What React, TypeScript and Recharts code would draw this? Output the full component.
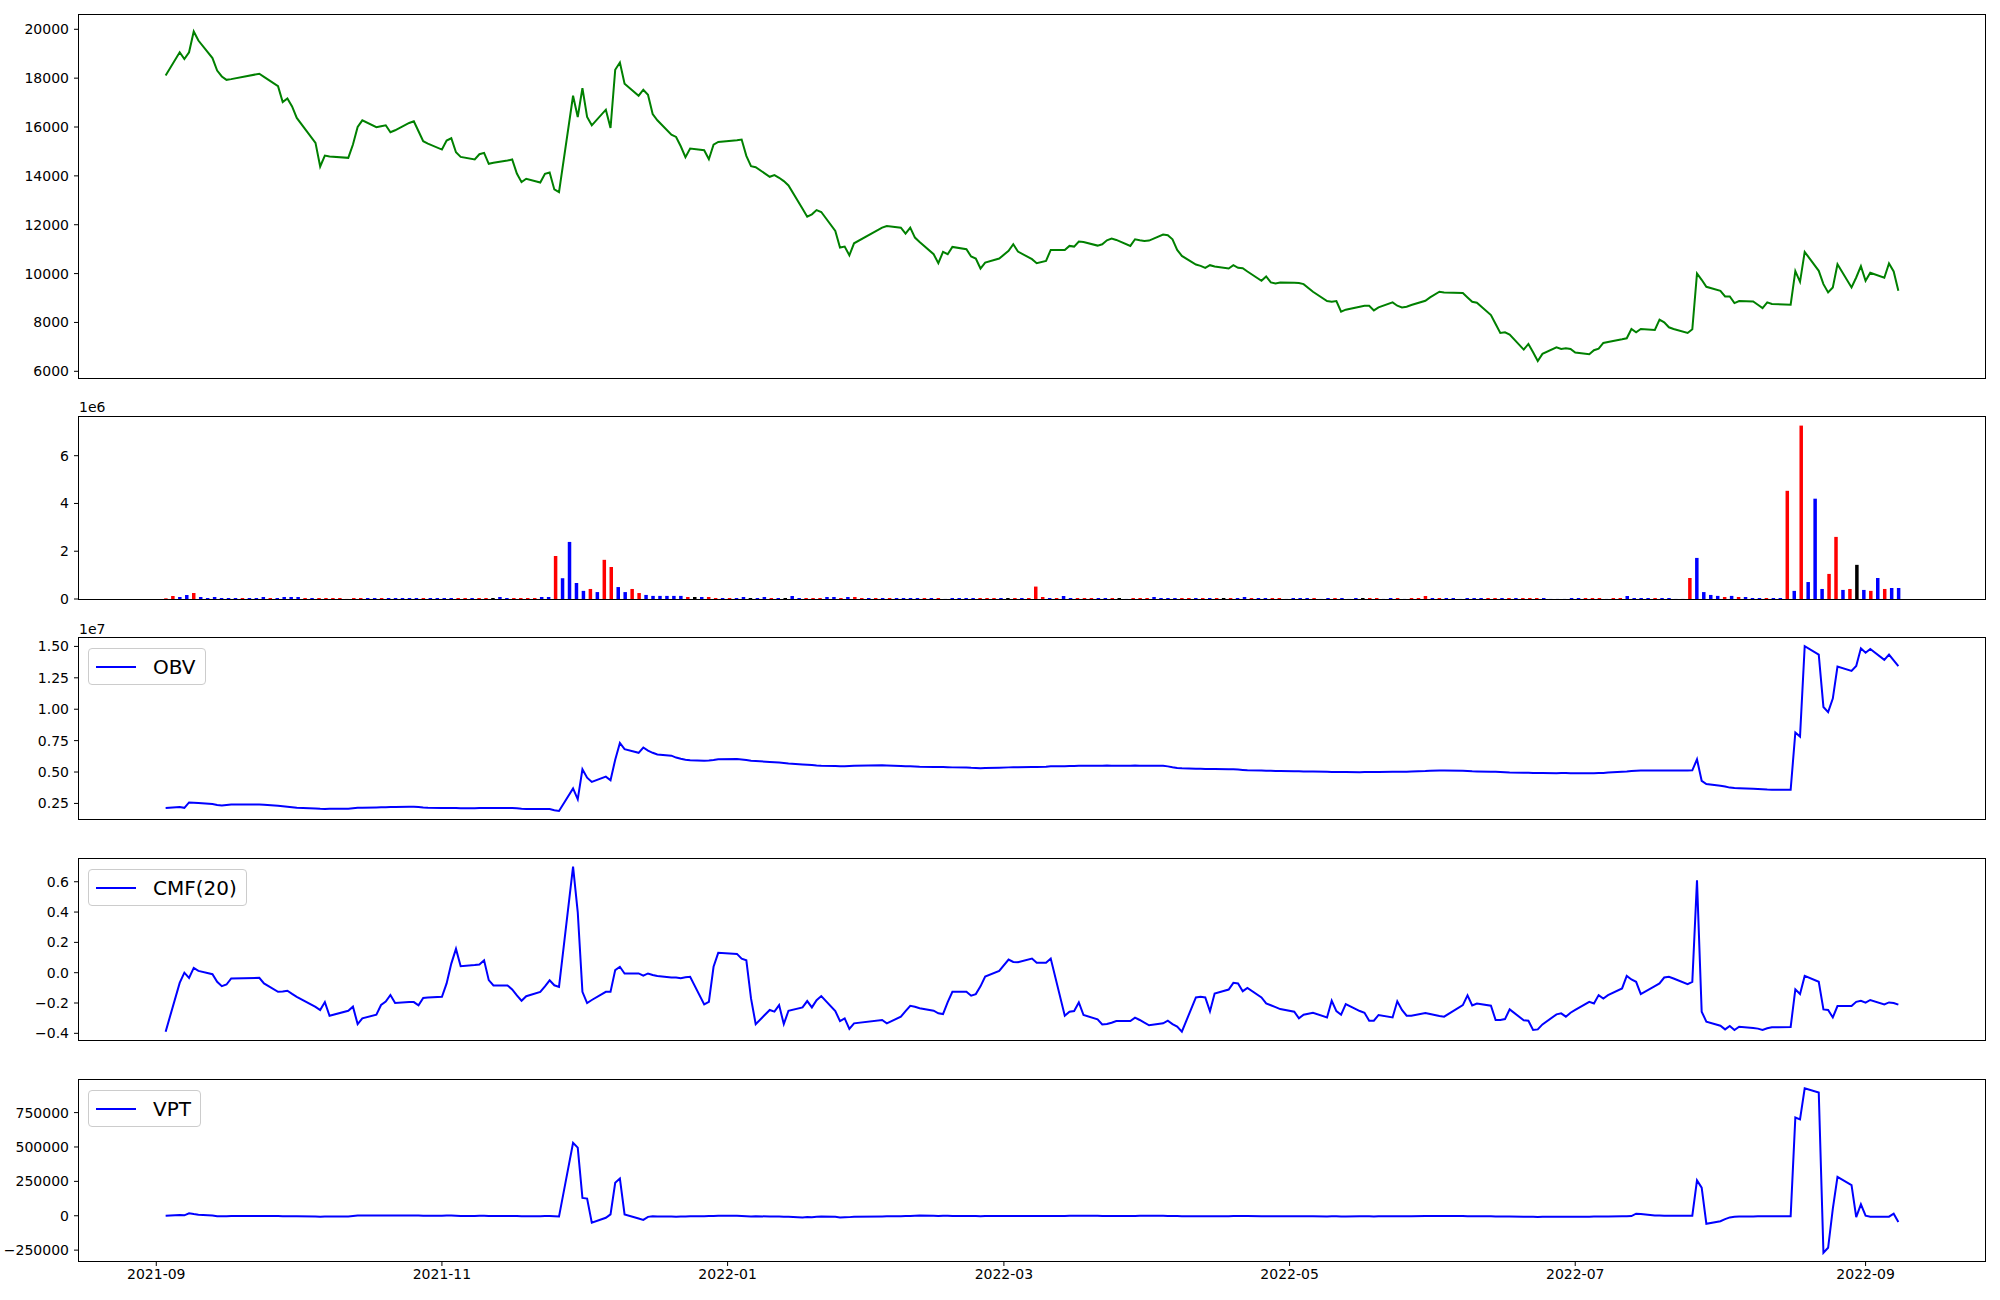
import React from "react";
import { LineChart, Line, BarChart, Bar, Cell, XAxis, YAxis, Legend } from "recharts";

// trading calendar (KRX, holidays skipped)
const MONTHS = ["2021-09", "2021-10", "2021-11", "2021-12", "2022-01", "2022-02", "2022-03", "2022-04", "2022-05", "2022-06", "2022-07", "2022-08", "2022-09"];
const TRADING_DAYS = [
  [3, 6, 7, 8, 9, 10, 13, 14, 15, 16, 17, 23, 24, 27, 28, 29, 30],
  [1, 5, 6, 7, 8, 12, 13, 14, 15, 18, 19, 20, 21, 22, 25, 26, 27, 28, 29],
  [1, 2, 3, 4, 5, 8, 9, 10, 11, 12, 15, 16, 17, 18, 19, 22, 23, 24, 25, 26, 29, 30],
  [1, 2, 3, 6, 7, 8, 9, 10, 13, 14, 15, 16, 17, 20, 21, 22, 23, 24, 27, 28, 29, 30],
  [3, 4, 5, 6, 7, 10, 11, 12, 13, 14, 17, 18, 19, 20, 21, 24, 25, 26, 27, 28],
  [3, 4, 7, 8, 9, 10, 11, 14, 15, 16, 17, 18, 21, 22, 23, 24, 25, 28],
  [2, 3, 4, 7, 8, 10, 11, 14, 15, 16, 17, 18, 21, 22, 23, 24, 25, 28, 29, 30, 31],
  [1, 4, 5, 6, 7, 8, 11, 12, 13, 14, 15, 18, 19, 20, 21, 22, 25, 26, 27, 28, 29],
  [2, 3, 4, 6, 9, 10, 11, 12, 13, 16, 17, 18, 19, 20, 23, 24, 25, 26, 27, 30, 31],
  [2, 3, 7, 8, 9, 10, 13, 14, 15, 16, 17, 20, 21, 22, 23, 24, 27, 28, 29, 30],
  [1, 4, 5, 6, 7, 8, 11, 12, 13, 14, 15, 18, 19, 20, 21, 22, 25, 26, 27, 28, 29],
  [1, 2, 3, 4, 5, 8, 9, 10, 11, 12, 16, 17, 18, 19, 22, 23, 24, 25, 26, 29, 30, 31],
  [1, 2, 5, 6, 7, 8],
];

const PRICE = [
  18110, 19060, 18780, 19060, 19910, 19540, 18820, 18310, 18070, 17930, 17960, 18180, 18055, 17674, 17020, 17170, 16845,
  16370, 15350, 14383, 14832, 14790, 14737, 15281, 16002, 16274, 15990, 16030, 16070, 15784, 15866, 16165, 16233, 15825, 15417, 15322,
  15077, 15444, 15539, 14968, 14778, 14669, 14886, 14941, 14492, 14533, 14628, 14669, 14098, 13744, 13880, 13730, 14084, 14138, 13445, 13336, 17280, 16410,
  17593, 16410, 16070, 16709, 15961, 18341, 18640, 17770, 17280, 17525, 17321, 16532, 16274, 15689, 15594, 15213, 14764, 15118, 15050, 14680, 15281, 15390,
  15458, 15485, 14818, 14397, 14356, 13962, 14030, 13921, 13785, 13608, 12656, 12330, 12425, 12600, 12520, 11745, 11065, 11106, 10750, 11240,
  11881, 11950, 11881, 11636, 11881, 11473, 11296, 10793, 10426, 10888, 10793, 11092, 10997, 10698, 10616, 10208, 10453, 10616,
  10929, 11201, 10902, 10589, 10426, 10521, 10970, 10970, 11133, 11106, 11310, 11296, 11146, 11201, 11364, 11432, 11378, 11133, 11405, 11364, 11337,
  11350, 11595, 11568, 11405, 10970, 10725, 10371, 10317, 10235, 10344, 10290, 10208, 10344, 10235, 10222, 10086, 9705, 9882, 9637, 9596, 9637,
  9623, 9610, 9569, 9256, 8875, 8848, 8875, 8440, 8522, 8644, 8685, 8685, 8494, 8617, 8821, 8685, 8617, 8644, 8712, 8889, 9025,
  9256, 9229, 9202, 9025, 8848, 8807, 8304, 7937, 7570, 7597, 7502, 6890, 7121, 6781, 6420, 6713, 6985, 6917, 6944, 6917,
  6767, 6699, 6862, 6930, 7162, 7202, 7311, 7352, 7733, 7597, 7733, 7692, 8114, 8005, 7801, 7733, 7570, 7720, 10004, 9746, 9460,
  9297, 9066, 9066, 8794, 8875, 8862, 8726, 8590, 8821, 8753, 8726, 10099, 9664, 10888, 10113, 9569, 9229, 9433, 10385, 9433, 9841, 10303,
  9705, 10031, 9827, 10412, 10086, 9297,
];

// volume in thousands, bar colour: r = close > open, b = close < open, k = flat
const VOLUME_K = [
  28, 126, 84, 168, 252, 84, 42, 84, 42, 42,
  42, 42, 42, 42, 84, 42, 42, 84, 84, 84,
  42, 42, 42, 42, 42, 42, 3, 42, 42, 42,
  42, 42, 42, 42, 42, 42, 42, 42, 42, 42,
  42, 42, 42, 42, 42, 42, 42, 42, 84, 42,
  42, 42, 42, 42, 84, 84, 1800, 870, 2390, 670,
  340, 420, 290, 1640, 1340, 500, 290, 420, 250, 170,
  130, 130, 130, 130, 130, 84, 84, 84, 84, 42,
  42, 42, 42, 84, 42, 42, 84, 42, 42, 42,
  126, 42, 42, 42, 42, 84, 84, 42, 84, 84,
  42, 42, 42, 42, 42, 42, 42, 42, 42, 42,
  42, 42, 3, 42, 42, 42, 42, 42, 42, 42,
  42, 42, 42, 42, 42, 520, 84, 42, 42, 126,
  42, 42, 42, 42, 42, 42, 42, 42, 3, 42,
  42, 42, 84, 42, 42, 42, 42, 42, 42, 42,
  42, 42, 42, 42, 42, 84, 42, 42, 42, 42,
  42, 3, 42, 42, 42, 42, 3, 42, 42, 42,
  3, 42, 42, 42, 42, 3, 42, 42, 3, 42,
  42, 126, 42, 42, 42, 42, 3, 42, 42, 42,
  42, 42, 42, 42, 42, 42, 42, 42, 42, 3,
  3, 3, 42, 42, 42, 42, 42, 3, 42, 42,
  126, 42, 42, 42, 42, 42, 42, 3, 3, 880,
  1720, 290, 170, 130, 84, 130, 84, 84, 42, 42,
  42, 42, 42, 4530, 340, 7260, 710, 4200, 420, 1050,
  2600, 380, 420, 1430, 380, 340, 880, 420, 460, 460,
];
const CANDLE = [
  "r", "r", "b", "b", "r", "b", "b", "b", "b", "b",
  "b", "r", "b", "b", "b", "r", "b", "b", "b", "b",
  "r", "b", "r", "r", "r", "r", "r", "r", "r", "b",
  "b", "r", "b", "b", "b", "b", "b", "r", "b", "b",
  "b", "b", "r", "r", "b", "r", "r", "k", "b", "b",
  "r", "r", "r", "r", "b", "b", "r", "b", "b", "b",
  "b", "r", "b", "r", "r", "b", "b", "r", "r", "b",
  "b", "b", "b", "b", "b", "r", "k", "b", "r", "r",
  "b", "r", "b", "b", "k", "b", "b", "r", "b", "k",
  "b", "b", "r", "r", "r", "b", "b", "r", "b", "r",
  "r", "b", "r", "b", "r", "b", "b", "b", "b", "r",
  "b", "r", "b", "b", "b", "b", "b", "r", "r", "r",
  "b", "k", "r", "b", "r", "r", "r", "b", "r", "b",
  "b", "r", "r", "r", "b", "b", "r", "k", "b", "r",
  "r", "r", "b", "b", "b", "b", "r", "r", "b", "r",
  "b", "r", "k", "r", "b", "b", "r", "b", "b", "r",
  "r", "b", "b", "b", "b", "r", "b", "b", "r", "b",
  "b", "b", "k", "r", "r", "b", "b", "r", "b", "r",
  "r", "r", "b", "r", "b", "b", "b", "b", "b", "b",
  "r", "r", "b", "r", "b", "r", "r", "r", "b", "b",
  "b", "b", "b", "b", "r", "r", "r", "b", "r", "r",
  "b", "b", "b", "b", "r", "b", "b", "b", "b", "r",
  "b", "b", "b", "b", "r", "b", "r", "b", "b", "b",
  "r", "b", "b", "r", "b", "r", "b", "b", "b", "r",
  "r", "b", "r", "k", "b", "r", "b", "r", "b", "b",
];

// OBV in millions
const OBV_M = [
  2.13, 2.21, 2.15, 2.58, 2.56, 2.53, 2.45, 2.38, 2.34, 2.38, 2.42, 2.42, 2.4, 2.31, 2.28, 2.24, 2.2,
  2.15, 2.1, 2.07, 2.06, 2.07, 2.08, 2.12, 2.15, 2.16, 2.18, 2.19, 2.2, 2.21, 2.22, 2.23, 2.24, 2.21, 2.17, 2.15,
  2.14, 2.13, 2.14, 2.13, 2.12, 2.12, 2.13, 2.14, 2.13, 2.13, 2.13, 2.14, 2.12, 2.08, 2.06, 2.05, 2.06, 2.05, 1.96, 1.9, 3.7, 2.83,
  5.22, 4.55, 4.21, 4.63, 4.34, 5.98, 7.32, 6.82, 6.53, 6.95, 6.7, 6.53, 6.4, 6.3, 6.15, 6.06, 5.98, 5.94, 5.9, 5.92, 5.95, 6.01,
  6.03, 6.0, 5.95, 5.9, 5.88, 5.8, 5.78, 5.75, 5.72, 5.68, 5.6, 5.58, 5.55, 5.52, 5.5, 5.47, 5.45, 5.46, 5.48, 5.5,
  5.53, 5.52, 5.48, 5.46, 5.45, 5.44, 5.42, 5.4, 5.4, 5.39, 5.38, 5.37, 5.36, 5.34, 5.33, 5.31, 5.32, 5.35,
  5.37, 5.38, 5.38, 5.39, 5.39, 5.42, 5.45, 5.46, 5.47, 5.48, 5.49, 5.5, 5.5, 5.5, 5.51, 5.5, 5.5, 5.5, 5.51, 5.5, 5.5,
  5.5, 5.5, 5.45, 5.38, 5.32, 5.3, 5.27, 5.26, 5.25, 5.25, 5.24, 5.23, 5.22, 5.2, 5.17, 5.14, 5.12, 5.11, 5.1, 5.09, 5.08,
  5.07, 5.06, 5.05, 5.04, 5.02, 5.01, 5.01, 5.0, 5.0, 4.99, 5.0, 5.0, 5.01, 5.01, 5.02, 5.02, 5.02, 5.03, 5.05, 5.08, 5.11,
  5.13, 5.12, 5.1, 5.08, 5.06, 5.05, 5.03, 5.02, 5.01, 4.99, 4.97, 4.95, 4.94, 4.93, 4.92, 4.92, 4.91, 4.92, 4.92, 4.91,
  4.9, 4.91, 4.91, 4.92, 4.93, 4.97, 5.03, 5.05, 5.08, 5.1, 5.12, 5.13, 5.13, 5.12, 5.13, 5.13, 5.12, 5.13, 6.01, 4.3, 4.05,
  3.91, 3.85, 3.76, 3.72, 3.7, 3.66, 3.64, 3.62, 3.6, 3.59, 3.58, 8.15, 7.82, 15.02, 14.35, 10.18, 9.77, 10.85, 13.4, 13.05, 13.45, 14.85,
  14.5, 14.8, 13.93, 14.35, 13.89, 13.43,
];

const CMF = [
  -0.389, -0.067, 0.0, -0.034, 0.032, 0.012, -0.01, -0.06, -0.089, -0.078, -0.038, -0.034, -0.071, -0.126, -0.124, -0.119, -0.14,
  -0.159, -0.225, -0.246, -0.194, -0.284, -0.251, -0.224, -0.339, -0.301, -0.277, -0.213, -0.191, -0.147, -0.2, -0.194, -0.194, -0.215, -0.167, -0.164,
  -0.159, -0.071, 0.06, 0.157, 0.043, 0.05, 0.054, 0.082, -0.049, -0.084, -0.084, -0.11, -0.15, -0.185, -0.155, -0.127, -0.09, -0.05, -0.083, -0.094, 0.7, 0.4,
  -0.126, -0.2, -0.18, -0.126, -0.126, 0.017, 0.039, -0.005, -0.005, -0.02, -0.005, -0.015, -0.022, -0.031, -0.031, -0.036, -0.03, -0.027, -0.209, -0.192, 0.039, 0.131,
  0.124, 0.093, 0.082, -0.17, -0.339, -0.246, -0.257, -0.214, -0.339, -0.251, -0.229, -0.187, -0.229, -0.181, -0.154, -0.253, -0.319, -0.301, -0.371, -0.334,
  -0.312, -0.334, -0.29, -0.254, -0.218, -0.225, -0.235, -0.251, -0.268, -0.273, -0.194, -0.126, -0.126, -0.152, -0.141, -0.09, -0.025, 0.012,
  0.087, 0.071, 0.069, 0.093, 0.065, 0.065, 0.093, -0.284, -0.257, -0.253, -0.196, -0.279, -0.308, -0.341, -0.339, -0.33, -0.319, -0.319, -0.297, -0.312, -0.33,
  -0.347, -0.334, -0.317, -0.339, -0.356, -0.389, -0.163, -0.159, -0.163, -0.255, -0.137, -0.111, -0.067, -0.071, -0.122, -0.1, -0.163, -0.203, -0.215, -0.227, -0.24,
  -0.257, -0.301, -0.277, -0.264, -0.295, -0.185, -0.253, -0.277, -0.207, -0.253, -0.264, -0.317, -0.317, -0.279, -0.295, -0.189, -0.246, -0.284, -0.284, -0.266, -0.273,
  -0.286, -0.29, -0.214, -0.15, -0.216, -0.203, -0.218, -0.312, -0.312, -0.306, -0.242, -0.314, -0.317, -0.378, -0.374, -0.341, -0.275, -0.268, -0.29, -0.264,
  -0.246, -0.192, -0.203, -0.148, -0.17, -0.148, -0.104, -0.021, -0.045, -0.06, -0.141, -0.089, -0.071, -0.032, -0.027, -0.038, -0.075, -0.06, 0.609, -0.257, -0.323,
  -0.35, -0.374, -0.352, -0.378, -0.356, -0.365, -0.369, -0.378, -0.367, -0.36, -0.358, -0.11, -0.141, -0.021, -0.06, -0.242, -0.246, -0.295, -0.22, -0.22, -0.192, -0.185,
  -0.198, -0.18, -0.209, -0.196, -0.2, -0.211,
];

// VPT in thousands
const VPT_K = [
  0, 5, 3, 18, 12, 8, 2, -3, -4, -3, -2, -1, -1, -2, -3, -3, -3,
  -3, -6, -8, -6, -5, -5, -2, 1, 2, 2, 2, 2, 1, 1, 2, 2, 1, 0, 0,
  0, 1, 1, 0, -1, -1, 0, 0, -1, -1, -1, -1, -2, -3, -3, -3, -2, -2, -4, -6, 530, 495,
  130, 125, -50, -15, 10, 240, 270, 10, -20, -30, -8, -3, -5, -6, -8, -6, -5, -4, -3, -2, -1, 0,
  0, -1, -3, -5, -4, -5, -5, -6, -7, -8, -12, -10, -11, -8, -6, -7, -12, -11, -10, -8,
  -5, -4, -3, -2, -1, 0, 1, 0, -1, 0, 0, -1, -1, -2, -2, -3, -2, -2,
  -2, -1, -1, -1, -2, -2, -1, -1, 0, 0, 0, 0, 0, -1, -1, -1, -1, -1, -1, 0, 0,
  0, 0, -1, -1, -2, -3, -3, -3, -3, -3, -3, -3, -2, -2, -2, -2, -3, -3, -3, -3, -3,
  -3, -3, -3, -4, -5, -4, -4, -5, -5, -4, -4, -4, -5, -4, -3, -3, -3, -3, -3, -2, -2,
  -2, -2, -2, -3, -3, -3, -4, -5, -6, -6, -6, -8, -7, -8, -9, -8, -7, -7, -7, -7,
  -7, -7, -6, -6, -5, -5, -4, -4, -2, 15, 12, 2, 1, 0, 0, 0, 0, 0, 257, 204, -58,
  -40, -25, -12, -8, -6, -5, -4, -4, -3, -3, -3, 714, 701, 927, 896, -269, -233, 50, 282, 223, -10, 83,
  0, -7, -7, -7, 15, -46,
];

const DATE_TICKS = ["2021-09", "2021-11", "2022-01", "2022-03", "2022-05", "2022-07", "2022-09"];
const PRICE_TICKS = [6000, 8000, 10000, 12000, 14000, 16000, 18000, 20000];
const VOLUME_TICKS = [0, 2e6, 4e6, 6e6];
const OBV_TICKS = [0.25e7, 0.5e7, 0.75e7, 1e7, 1.25e7, 1.5e7];
const CMF_TICKS = [-0.4, -0.2, 0, 0.2, 0.4, 0.6];
const VPT_TICKS = [-250000, 0, 250000, 500000, 750000];

const BAR_COLORS: Record<string, string> = { r: "#ff0000", b: "#0000ff", k: "#000000" };

const ORIGIN = Date.UTC(2021, 8, 1);
const dayNumber = (ym: string, d: number) => {
  const [y, m] = ym.split("-").map(Number);
  return Math.round((Date.UTC(y, m - 1, d) - ORIGIN) / 86400000);
};

const dates = MONTHS.flatMap((m, i) => TRADING_DAYS[i].map((d) => dayNumber(m, d)));
const rows = dates.map((t, i) => ({
  t,
  price: PRICE[i],
  obv: OBV_M[i] * 1e6,
  cmf: CMF[i],
  vpt: VPT_K[i] * 1e3,
}));
const volRows = VOLUME_K.map((v, i) => ({ i, vol: v * 1e3, c: CANDLE[i] }));

const span = dates[dates.length - 1] - dates[0];
const X_DOMAIN = [dates[0] - 0.05 * span, dates[dates.length - 1] + 0.05 * span];
const n = volRows.length - 1;
const IDX_DOMAIN = [-0.05 * n, n * 1.05];

const FONT = "DejaVu Sans, sans-serif";
const W = 2000;
const LEFT = 79;
const RIGHT = 15;
const PAD = 10; // room above/below each plot so edge tick labels are not clipped
const tickStyle = { fill: "#000", fontSize: 14, fontFamily: FONT };
const minus = (s: string) => s.replace("-", "\u2212");

function LegendBox({ label }: { label: string }) {
  return (
    <div
      style={{
        display: "inline-flex",
        alignItems: "center",
        height: 37,
        boxSizing: "border-box",
        padding: "0 9px 0 7px",
        border: "1px solid #cccccc",
        borderRadius: 4,
        background: "rgba(255,255,255,0.8)",
        fontSize: 20,
        fontFamily: FONT,
        color: "#000",
        whiteSpace: "nowrap",
      }}
    >
      <svg width={40} height={4} style={{ marginRight: 17 }}>
        <line x1={0} y1={2} x2={40} y2={2} stroke="#0000ff" strokeWidth={2} />
      </svg>
      <span>{label}</span>
    </div>
  );
}

function Frame({ top, height }: { top: number; height: number }) {
  return (
    <div
      style={{
        position: "absolute",
        left: LEFT - 1,
        top: top - 1,
        width: W - RIGHT - LEFT + 2,
        height: height + 2,
        border: "1px solid #000",
        boxSizing: "border-box",
        pointerEvents: "none",
      }}
    />
  );
}

function Offset({ top, text }: { top: number; text: string }) {
  return (
    <div style={{ position: "absolute", left: LEFT, top, fontSize: 14, fontFamily: FONT, color: "#000", lineHeight: "16px" }}>
      {text}
    </div>
  );
}

interface LinePanelProps {
  top: number;
  height: number;
  dataKey: string;
  color: string;
  domain: number[];
  ticks: number[];
  fmt: (v: number) => string;
  label?: string;
  showDates?: boolean;
}

function LinePanel({ top, height, dataKey, color, domain, ticks, fmt, label, showDates }: LinePanelProps) {
  const axisH = showDates ? 32 : 0;
  return (
    <div style={{ position: "absolute", left: 0, top: top - PAD }}>
      <LineChart
        width={W}
        height={height + axisH + 2 * PAD}
        data={rows}
        margin={{ top: PAD, right: RIGHT, bottom: PAD, left: 0 }}
      >
        <XAxis
          dataKey="t"
          type="number"
          domain={X_DOMAIN}
          allowDataOverflow
          hide={!showDates}
          height={axisH}
          ticks={[0, 61, 122, 181, 242, 303, 365]}
          tickFormatter={(v: number, i: number) => DATE_TICKS[i]}
          tick={tickStyle}
          tickLine={{ stroke: "#000" }}
          axisLine={false}
          tickSize={5}
          tickMargin={3}
          interval={0}
        />
        <YAxis
          type="number"
          domain={domain}
          allowDataOverflow
          ticks={ticks}
          width={LEFT}
          tickFormatter={fmt}
          tick={tickStyle}
          tickLine={{ stroke: "#000" }}
          axisLine={false}
          tickSize={5}
          tickMargin={5}
          interval={0}
        />
        {label && (
          <Legend
            layout="horizontal"
            verticalAlign="middle"
            align="center"
            wrapperStyle={{ top: PAD + 10, left: 88, width: "auto", height: "auto" }}
            content={() => <LegendBox label={label} />}
          />
        )}
        <Line
          type="linear"
          dataKey={dataKey}
          stroke={color}
          strokeWidth={2}
          dot={false}
          activeDot={false}
          isAnimationActive={false}
        />
      </LineChart>
    </div>
  );
}

function VolumePanel({ top, height }: { top: number; height: number }) {
  return (
    <div style={{ position: "absolute", left: 0, top: top - PAD }}>
      <BarChart
        width={W}
        height={height + 2 * PAD}
        data={volRows}
        margin={{ top: PAD, right: RIGHT, bottom: PAD, left: 0 }}
        barSize={3.5}
      >
        <XAxis dataKey="i" type="number" domain={IDX_DOMAIN} allowDataOverflow hide />
        <YAxis
          type="number"
          domain={[0, 7.62e6]}
          allowDataOverflow
          ticks={VOLUME_TICKS}
          width={LEFT}
          tickFormatter={(v: number) => String(v / 1e6)}
          tick={tickStyle}
          tickLine={{ stroke: "#000" }}
          axisLine={false}
          tickSize={5}
          tickMargin={5}
          interval={0}
        />
        <Bar dataKey="vol" isAnimationActive={false}>
          {volRows.map((r) => (
            <Cell key={r.i} fill={BAR_COLORS[r.c]} />
          ))}
        </Bar>
      </BarChart>
    </div>
  );
}

export default function App() {
  return (
    <div style={{ position: "absolute", left: 0, top: 0, width: W, height: 1300, background: "#fff", fontFamily: FONT }}>
      <LinePanel
        top={15}
        height={363}
        dataKey="price"
        color="#008000"
        domain={[5726, 20585]}
        ticks={PRICE_TICKS}
        fmt={(v) => String(v)}
      />
      <Frame top={15} height={363} />

      <Offset top={399} text="1e6" />
      <VolumePanel top={417} height={182} />
      <Frame top={417} height={182} />

      <Offset top={621} text="1e7" />
      <LinePanel
        top={638}
        height={181}
        dataKey="obv"
        color="#0000ff"
        domain={[1.26e6, 15.67e6]}
        ticks={OBV_TICKS}
        fmt={(v) => (v / 1e7).toFixed(2)}
        label="OBV"
      />
      <Frame top={638} height={181} />

      <LinePanel
        top={859}
        height={181}
        dataKey="cmf"
        color="#0000ff"
        domain={[-0.444, 0.75]}
        ticks={CMF_TICKS}
        fmt={(v) => minus(v.toFixed(1))}
        label="CMF(20)"
      />
      <Frame top={859} height={181} />

      <LinePanel
        top={1080}
        height={181}
        dataKey="vpt"
        color="#0000ff"
        domain={[-329000, 987000]}
        ticks={VPT_TICKS}
        fmt={(v) => minus(String(v))}
        label="VPT"
        showDates
      />
      <Frame top={1080} height={181} />
    </div>
  );
}
